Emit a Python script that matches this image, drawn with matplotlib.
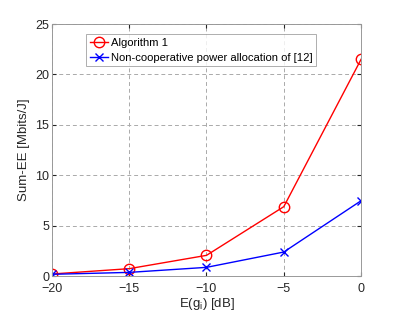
import matplotlib
matplotlib.use("Agg")
import matplotlib.pyplot as plt

# Values
snr_db = [-20, -15, -10, -5, 0]
alg1_ee = [0.2, 0.73, 2.05, 6.88, 21.5]
noncoop_ee = [0.17, 0.36, 0.86, 2.38, 7.47]

plt.rcParams['font.family'] = ['Liberation Sans', 'DejaVu Sans']
plt.rcParams['mathtext.fontset'] = 'custom'
plt.rcParams['mathtext.rm'] = 'Liberation Sans'
plt.rcParams['mathtext.it'] = 'Liberation Sans'

fig = plt.figure(figsize=(3.99, 3.18), dpi=100)
ax = fig.add_axes([0.130, 0.132, 0.775, 0.7925])

ax.plot(snr_db, alg1_ee, color='red', marker='o', markersize=7.5,
        markerfacecolor='none', markeredgewidth=1.0, linewidth=1.0, label='Algorithm 1')
ax.plot(snr_db, noncoop_ee, color='blue', marker='x', markersize=6,
        markeredgewidth=1.0, linewidth=1.0,
        label='Non-cooperative power allocation of [12]')

ax.set_xlim(-20, 0)
ax.set_ylim(0, 25)
ax.set_xticks([-20, -15, -10, -5, 0])
ax.set_yticks([0, 5, 10, 15, 20, 25])
ax.grid(True, linestyle=(0, (4, 3)), color='#aaaaaa', linewidth=0.7)
ax.tick_params(direction='in', length=3, labelsize=9, colors='#262626',
               top=True, right=True, pad=2)
ax.tick_params(axis='x', pad=5)
for s in ax.spines.values():
    s.set_color('#999999')
    s.set_linewidth(0.7)

ax.set_xlabel('E(g$_\\mathregular{i}$) [dB]', fontsize=9.5, color='#262626', labelpad=1)
ax.set_ylabel('Sum-EE [Mbits/J]', fontsize=9.5, color='#262626', labelpad=4)

leg = ax.legend(loc='upper left', bbox_to_anchor=(0.11, 0.96), fontsize=8.1,
                frameon=True, fancybox=False, borderpad=0.35, labelspacing=0.4,
                handlelength=1.6, handletextpad=0.25, borderaxespad=0)
leg.get_frame().set_edgecolor('#999999')
leg.get_frame().set_linewidth(0.7)

fig.savefig('out.png', dpi=100)
